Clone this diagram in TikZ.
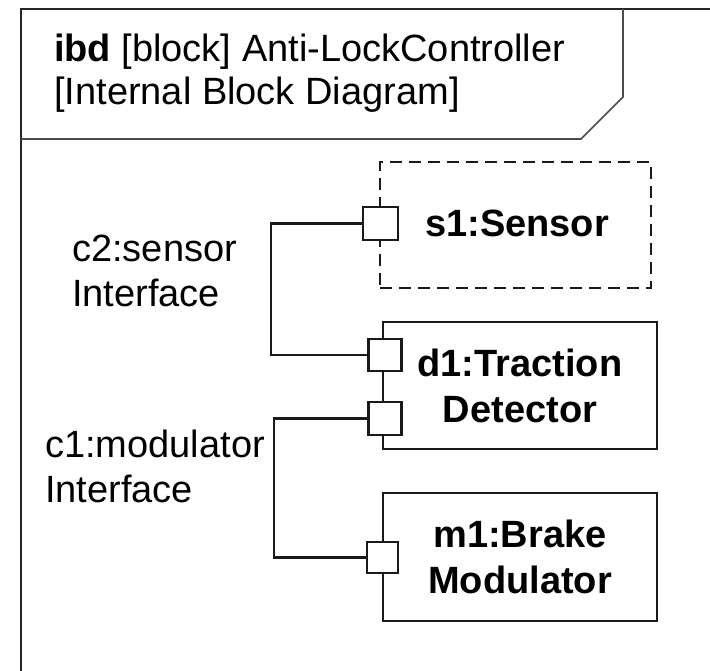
\documentclass[tikz,border=0pt]{standalone}
\usepackage{fontspec}
\setmainfont{Liberation Sans}
\begin{document}
\begin{tikzpicture}[x=1pt,y=-1pt,
  frameline/.style={line width=2.6pt,draw=black!85},
  headerline/.style={line width=1.6pt,draw=black!70},
  partbox/.style={draw=black!90,line width=2.2pt,minimum width=274pt,minimum height=127pt,
    align=center,font=\fontsize{38}{46}\selectfont\bfseries,inner sep=0pt},
  portbox/.style={draw=black!90,fill=white,line width=2.2pt,minimum width=33pt,minimum height=32pt,inner sep=0pt},
  conn/.style={line width=2.2pt,draw=black!90},
  lbl/.style={font=\fontsize{38}{45}\selectfont,align=left,inner sep=0pt,anchor=base west},
  headtext/.style={font=\fontsize{38}{43}\selectfont,align=left,inner sep=0pt,anchor=base west}]
\useasboundingbox (0,0) rectangle (710,671);
\fill[white] (0,0) rectangle (710,671);
% frame
\draw[frameline] (21,675) -- (21,9) -- (715,9);
\draw[headerline] (21,139) -- (581,139) -- (623,97) -- (623,9);
\node[headtext] (head) at (54,105) {\textbf{ibd} [block] Anti-LockController\\{}[Internal Block Diagram]};
% parts
\node[partbox,dashed,dash pattern=on 12pt off 7pt,minimum width=271pt,minimum height=126pt] (s1) at (515.5,225) {};
\node[font=\fontsize{38}{46}\selectfont\bfseries,inner sep=0pt] (s1t) at (517,223) {s1:Sensor};
\node[partbox] (d1) at (520,385.5) {d1:Traction\\Detector};
\node[partbox,minimum height=128pt] (m1) at (520,557) {m1:Brake\\Modulator};
% ports
\node[portbox,minimum width=35pt,minimum height=33pt] (ps1) at (380.5,223.5) {};
\node[portbox] (pd1a) at (385,355) {};
\node[portbox,minimum height=33pt] (pd1b) at (385,418.5) {};
\node[portbox,minimum width=31pt,minimum height=31pt] (pm1) at (382.5,557.5) {};
% connectors
\coordinate (c2x) at (271,0);
\coordinate (c1x) at (274,0);
\draw[conn] (ps1.west) -- (ps1.west -| c2x) |- (pd1a.west);
\draw[conn] (pd1b.west) -- (pd1b.west -| c1x) |- (pm1.west);
% labels
\node[lbl] (c2) at (72,307) {c2:sensor\\Interface};
\node[lbl] (c1) at (45,502) {c1:modulator\\Interface};
\end{tikzpicture}
\end{document}
